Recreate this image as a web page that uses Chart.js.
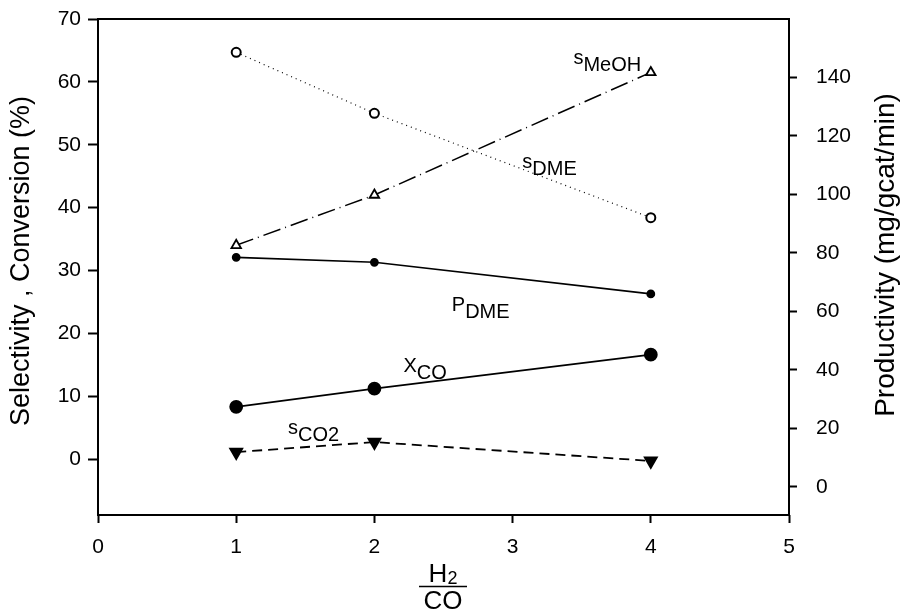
<!DOCTYPE html>
<html>
<head>
<meta charset="utf-8">
<script src="https://cdn.jsdelivr.net/npm/chart.js@4.4.1/dist/chart.umd.min.js"></script>
<style>
  html, body { margin: 0; padding: 0; background: #fff; }
  #wrap { width: 901px; height: 613px; }
</style>
</head>
<body>
<div id="wrap"><canvas id="myChart" width="901" height="613"></canvas></div>
<script>
/* ~~~~~~~~~~ DATA ~~~~~~~~~~*/

const ratios = [1, 2, 4];               // H2/CO
const sMeOH = [34.0, 42.0, 61.5];       // selectivity MeOH (%)
const sDME = [64.7, 55.0, 38.4];        // selectivity DME (%)
const xCO = [8.3, 11.2, 16.6];          // CO conversion (%)
const sCO2 = [1.1, 2.7, -0.3];          // selectivity CO2 (%)
const pDME = [78.5, 76.8, 66.0];        // productivity (mg/gcat/min), right axis

const xTicks = [0, 1, 2, 3, 4, 5];
const leftTicks = [0, 10, 20, 30, 40, 50, 60, 70];
const rightTicks = [0, 20, 40, 60, 80, 100, 120, 140];

// curve labels: main letter + subscript, anchored in data coords
const curveLabels = [
  { main: 's', sub: 'MeOH', x: 3.44, y: 62.8 },
  { main: 's', sub: 'DME', x: 3.07, y: 46.3 },
  { main: 'P', sub: 'DME', x: 2.56, y: 23.5 },
  { main: 'X', sub: 'CO', x: 2.21, y: 13.8 },
  { main: 's', sub: 'CO2', x: 1.375, y: 4.05 },
];

const FONT = '"Liberation Sans", Arial, sans-serif';

const pts = (vals) => ratios.map((r, i) => ({ x: r, y: vals[i] }));

/* ~~~~~~~~~~ PLUGIN: frame, titles, labels ~~~~~~~~~~*/

const decorations = {
  id: 'decorations',
  afterDraw(chart) {
    const { ctx, chartArea, scales } = chart;
    ctx.save();
    ctx.strokeStyle = '#000';
    ctx.lineWidth = 2;
    ctx.strokeRect(chartArea.left, chartArea.top,
      chartArea.right - chartArea.left, chartArea.bottom - chartArea.top);

    // curve labels
    ctx.fillStyle = '#000';
    ctx.textBaseline = 'alphabetic';
    ctx.textAlign = 'left';
    curveLabels.forEach((l) => {
      const px = scales.x.getPixelForValue(l.x);
      const py = scales.y.getPixelForValue(l.y);
      ctx.font = '20px ' + FONT;
      ctx.fillText(l.main, px, py);
      const w = ctx.measureText(l.main).width;
      ctx.fillText(l.sub, px + w, py + 7);
    });

    // left title
    ctx.textAlign = 'center';
    ctx.textBaseline = 'middle';
    ctx.font = '27px ' + FONT;
    ctx.save();
    ctx.translate(22, 261);
    ctx.rotate(-Math.PI / 2);
    ctx.fillText('Selectivity , Conversion (%)', 0, 0);
    ctx.restore();

    // right title
    ctx.font = '28px ' + FONT;
    ctx.save();
    ctx.translate(886, 255);
    ctx.rotate(-Math.PI / 2);
    ctx.fillText('Productivity (mg/gcat/min)', 0, 0);
    ctx.restore();

    // x title: H2 / CO fraction
    const cx = 443;
    ctx.textBaseline = 'alphabetic';
    ctx.font = '26px ' + FONT;
    const hw = ctx.measureText('H').width;
    ctx.font = '18px ' + FONT;
    const tw = ctx.measureText('2').width;
    const start = cx - (hw + tw) / 2;
    ctx.textAlign = 'left';
    ctx.font = '26px ' + FONT;
    ctx.fillText('H', start, 582);
    ctx.font = '18px ' + FONT;
    ctx.fillText('2', start + hw, 584);
    ctx.beginPath();
    ctx.lineWidth = 1.5;
    ctx.moveTo(419, 586.5);
    ctx.lineTo(467, 586.5);
    ctx.stroke();
    ctx.font = '26px ' + FONT;
    ctx.textAlign = 'center';
    ctx.fillText('CO', cx, 609);
    ctx.restore();
  },
};

/* ~~~~~~~~~~ CHART ~~~~~~~~~~*/

const tickFont = { family: FONT, size: 21 };
const keepTicks = (list) => (scale) => {
  scale.ticks = list.map((v) => ({ value: v }));
};
// fixed box sizes, no extra label padding
const fixSize = (prop, size) => (s) => {
  s[prop] = size;
  s.paddingTop = 0;
  s.paddingBottom = 0;
  s.paddingLeft = 0;
  s.paddingRight = 0;
};

const ctx = document.getElementById('myChart').getContext('2d');
const chart = new Chart(ctx, {
  type: 'line',
  data: {
    datasets: [
      {
        label: 'sDME',
        data: pts(sDME),
        yAxisID: 'y',
        borderColor: '#000',
        borderWidth: 1.2,
        borderDash: [1, 4],
        pointStyle: 'circle',
        pointRadius: 4.5,
        pointBorderWidth: 2,
        pointBackgroundColor: '#fff',
        pointBorderColor: '#000',
      },
      {
        label: 'sMeOH',
        data: pts(sMeOH),
        yAxisID: 'y',
        borderColor: '#000',
        borderWidth: 1.5,
        borderDash: [18, 5, 1, 5],
        pointStyle: 'triangle',
        pointRadius: 5.5,
        pointBorderWidth: 1.8,
        pointBackgroundColor: '#fff',
        pointBorderColor: '#000',
      },
      {
        label: 'pDME',
        data: pts(pDME),
        yAxisID: 'y2',
        borderColor: '#000',
        borderWidth: 1.6,
        pointStyle: 'circle',
        pointRadius: 3.6,
        pointBackgroundColor: '#000',
        pointBorderColor: '#000',
      },
      {
        label: 'xCO',
        data: pts(xCO),
        yAxisID: 'y',
        borderColor: '#000',
        borderWidth: 1.8,
        pointStyle: 'circle',
        pointRadius: 6,
        pointBackgroundColor: '#000',
        pointBorderColor: '#000',
      },
      {
        label: 'sCO2',
        data: pts(sCO2),
        yAxisID: 'y',
        borderColor: '#000',
        borderWidth: 1.8,
        borderDash: [10, 6],
        pointStyle: 'triangle',
        pointRotation: 180,
        pointRadius: 7,
        pointBackgroundColor: '#000',
        pointBorderColor: '#000',
      },
    ],
  },
  options: {
    responsive: false,
    animation: false,
    layout: { padding: { top: 19, left: 0, right: 0, bottom: 0 } },
    plugins: { legend: { display: false }, tooltip: { enabled: false } },
    scales: {
      x: {
        type: 'linear',
        min: 0,
        max: 5,
        afterBuildTicks: keepTicks(xTicks),
        afterFit: fixSize('height', 98),
        grid: { drawOnChartArea: false, tickLength: 8, tickWidth: 2, tickColor: '#000' },
        border: { display: false },
        ticks: { color: '#000', font: tickFont, padding: 12, maxRotation: 0 },
      },
      y: {
        type: 'linear',
        position: 'left',
        min: -8.9,
        max: 70,
        afterBuildTicks: keepTicks(leftTicks),
        afterFit: fixSize('width', 98),
        grid: { drawOnChartArea: false, tickLength: 10, tickWidth: 2, tickColor: '#000' },
        border: { display: false },
        ticks: { color: '#000', font: tickFont, padding: 7 },
      },
      y2: {
        type: 'linear',
        position: 'right',
        min: -9.6,
        max: 160,
        afterBuildTicks: keepTicks(rightTicks),
        afterFit: fixSize('width', 112),
        grid: { drawOnChartArea: false, tickLength: 8, tickWidth: 2, tickColor: '#000' },
        border: { display: false },
        ticks: { color: '#000', font: tickFont, padding: 19 },
      },
    },
  },
  plugins: [decorations],
});
</script>
</body>
</html>
